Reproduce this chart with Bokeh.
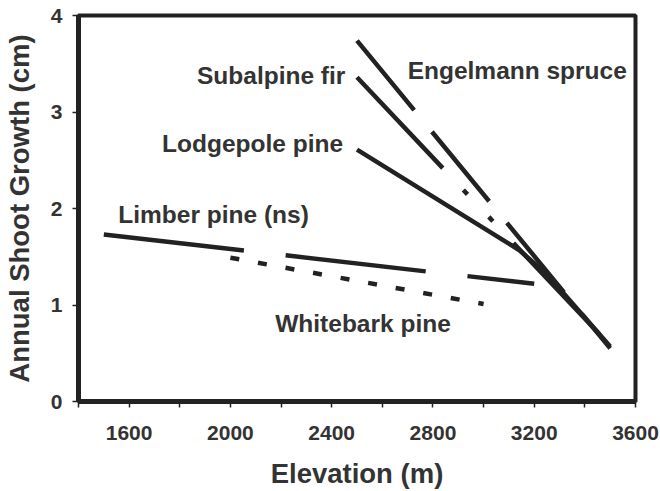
from bokeh.plotting import figure
from bokeh.models import Range1d, FixedTicker, Label
from bokeh.embed import file_html
from bokeh.resources import INLINE

# ---- data ----
limber_x = [1500, 3200]
limber_y = [1.73, 1.22]
whitebark_x = [2000, 3000]
whitebark_y = [1.49, 1.01]
lodgepole_x = [2500, 3140, 3250, 3500]
lodgepole_y = [2.61, 1.57, 1.32, 0.57]
subalpine_x = [2500, 3500]
subalpine_y = [3.36, 0.58]
engelmann_x = [2500, 3500]
engelmann_y = [3.74, 0.55]

x_ticks = [1600, 2000, 2400, 2800, 3200, 3600]
x_minor_ticks = [1400, 1800, 2200, 2600, 3000, 3400]
y_ticks = [0, 1, 2, 3, 4]

species_labels = ["Engelmann spruce", "Subalpine fir", "Lodgepole pine",
                  "Limber pine (ns)", "Whitebark pine"]
# label anchor positions (left edge), data units
label_anchor_x = [2700, 1868, 1730, 1557, 2177]
label_anchor_y = [3.43, 3.38, 2.67, 1.94, 0.81]

FONT = "Liberation Sans"
INK = "#222222"
TXT = "#333333"

p = figure(width=660, height=491, output_backend="svg", toolbar_location=None,
           x_range=Range1d(1400, 3600), y_range=Range1d(0, 4),
           min_border_left=78, min_border_right=25, min_border_top=15,
           min_border_bottom=87)

p.xgrid.visible = False
p.ygrid.visible = False
p.outline_line_color = INK
p.outline_line_width = 4
p.background_fill_color = "white"
p.border_fill_color = "white"

# lines
p.line(limber_x, limber_y, line_color=INK, line_width=4.5, line_dash="141 42")
p.line(whitebark_x, whitebark_y, line_color=INK, line_width=4.5, line_dash="9 19")
p.line(lodgepole_x, lodgepole_y, line_color=INK, line_width=4.5)
p.line(subalpine_x, subalpine_y, line_color=INK, line_width=4.5,
       line_dash="125 30 6 31 6 30")
p.line(engelmann_x, engelmann_y, line_color=INK, line_width=4.5, line_dash="90 28")

for t, lx, ly in zip(species_labels, label_anchor_x, label_anchor_y):
    p.add_layout(Label(x=lx, y=ly, text=t, text_font=FONT, text_font_size="24.5px",
                       text_font_style="bold", text_color=TXT,
                       text_align="left", text_baseline="alphabetic"))

# axes
xa = p.xaxis[0]
xa.ticker = FixedTicker(ticks=x_ticks, minor_ticks=x_minor_ticks)
xa.axis_label = "Elevation (m)"
ya = p.yaxis[0]
ya.ticker = FixedTicker(ticks=y_ticks, minor_ticks=[])
ya.axis_label = "Annual Shoot Growth (cm)"

for ax in (xa, ya):
    ax.axis_line_color = INK
    ax.axis_line_width = 5
    ax.major_tick_line_color = INK
    ax.major_tick_line_width = 1.5
    ax.major_tick_in = 0
    ax.major_tick_out = 6
    ax.minor_tick_line_color = INK
    ax.minor_tick_line_width = 1.5
    ax.minor_tick_in = 0
    ax.minor_tick_out = 6
    ax.major_label_text_font = FONT
    ax.major_label_text_font_size = "21px"
    ax.major_label_text_font_style = "bold"
    ax.major_label_text_color = TXT
    ax.axis_label_text_font = FONT
    ax.axis_label_text_font_size = "27.5px"
    ax.axis_label_text_font_style = "bold"
    ax.axis_label_text_color = TXT

xa.major_label_standoff = 18
xa.axis_label_standoff = 15
ya.major_label_standoff = 10
ya.axis_label_standoff = 13

open("out.html", "w").write(file_html(p, INLINE))
